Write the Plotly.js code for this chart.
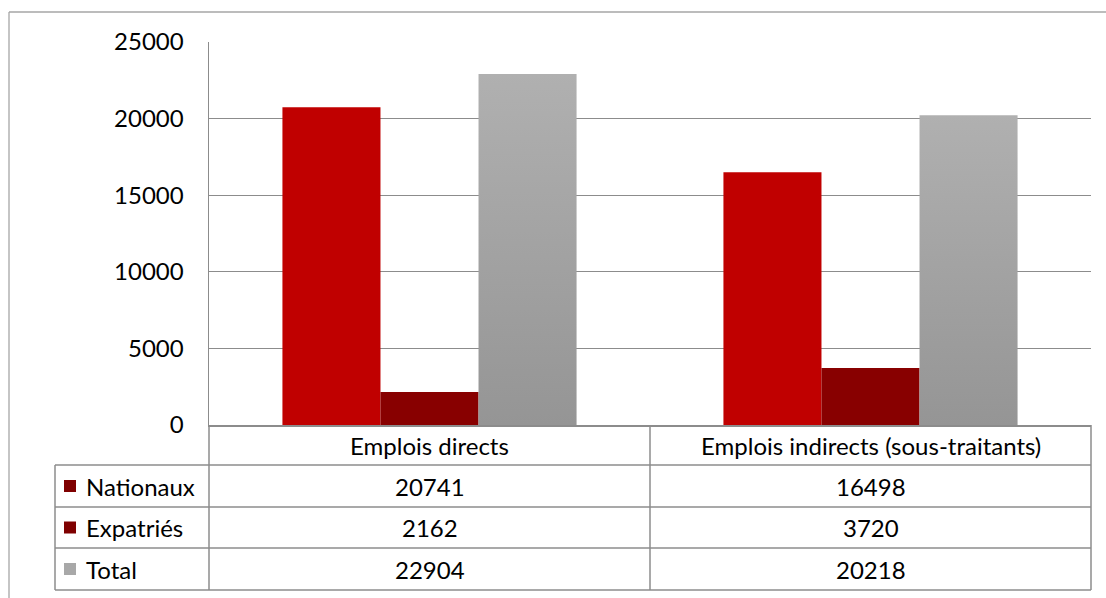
<!DOCTYPE html>
<html><head><meta charset="utf-8">
<script src="https://cdn.plot.ly/plotly-3.0.1.min.js"></script>
<style>body{margin:0;background:#fff}</style>
</head><body><div id="chart" style="width:1106px;height:598px"></div>
<script>
const categories = ['Emplois directs', 'Emplois indirects (sous-traitants)'];
const seriesNames = ['Nationaux', 'Expatriés', 'Total'];
const nationaux = [20741, 16498];
const expatries = [2162, 3720];
const total = [22904, 20218];
const yTicks = [0, 5000, 10000, 15000, 20000, 25000];

const W = 1106, H = 598, L = 209, R = 1091, T = 42, B = 425;
const FONT = 'Lato, Carlito, "Open Sans", sans-serif';
const FS = 24;
const px = x => (x - L) / (R - L);
const py = y => (B - y) / (B - T);
const lineCol = '#8c8c8c';

const barColors = ['#C00000', '#880000', '#A3A3A3'];
const markerColors = ['#7f0000', '#7f0000', '#a8a8a8'];
const seriesData = [nationaux, expatries, total];

const traces = seriesData.map((vals, i) => ({
  type: 'bar', name: seriesNames[i], x: categories, y: vals,
  marker: {color: barColors[i], line: {width: 0}}, hoverinfo: 'none'
}));

const shapes = [];
const annotations = [];
function hline(x0, x1, y, col, w) {
  shapes.push({type: 'line', xref: 'paper', yref: 'paper', x0: px(x0), x1: px(x1), y0: py(y), y1: py(y), line: {color: col || lineCol, width: w || 1.5}});
}
function vline(x, y0, y1, col, w) {
  shapes.push({type: 'line', xref: 'paper', yref: 'paper', x0: px(x), x1: px(x), y0: py(y0), y1: py(y1), line: {color: col || lineCol, width: w || 1.5}});
}
// outer chart border
hline(9, 1115, 12, '#a6a6a6', 1.3);
vline(9, 12, 610, '#a6a6a6', 1.3);

// data table
const rowBounds = [425, 465, 507, 548, 590];
for (let r = 1; r < rowBounds.length; r++) hline(55, R, rowBounds[r]);
vline(55, 465, 590);
vline(209, 425, 590);
vline(650, 425, 590);
vline(1091, 425, 590);

const colCenters = [(209 + 650) / 2, (650 + 1091) / 2];
categories.forEach((c, j) => {
  annotations.push({xref: 'paper', yref: 'paper', x: px(colCenters[j]), y: py((rowBounds[0] + rowBounds[1]) / 2),
    text: c, showarrow: false, xanchor: 'center', yanchor: 'middle', font: {family: FONT, size: FS, color: '#000'}});
});
seriesNames.forEach((s, i) => {
  const yc = (rowBounds[i + 1] + rowBounds[i + 2]) / 2;
  shapes.push({type: 'rect', xref: 'paper', yref: 'paper', x0: px(64), x1: px(76), y0: py(yc - 6), y1: py(yc + 6),
    fillcolor: markerColors[i], line: {width: 0}});
  annotations.push({xref: 'paper', yref: 'paper', x: px(84), y: py(yc), text: s, showarrow: false,
    xanchor: 'left', yanchor: 'middle', font: {family: FONT, size: FS, color: '#000'}});
  seriesData[i].forEach((v, j) => {
    annotations.push({xref: 'paper', yref: 'paper', x: px(colCenters[j]), y: py(yc), text: String(v), showarrow: false,
      xanchor: 'center', yanchor: 'middle', font: {family: FONT, size: FS, color: '#000'}});
  });
});

const layout = {
  width: W, height: H,
  margin: {l: L, r: W - R, t: T, b: H - B, pad: 0},
  paper_bgcolor: '#fff', plot_bgcolor: '#fff',
  showlegend: false,
  barmode: 'group', bargap: 0.333, bargroupgap: 0,
  font: {family: FONT, size: FS, color: '#000'},
  xaxis: {showticklabels: false, ticks: '', showline: true, linecolor: lineCol, linewidth: 1.5, showgrid: false, zeroline: false, fixedrange: true},
  yaxis: {range: [0, 25000], tickvals: yTicks, ticktext: yTicks.map(String), showgrid: true, gridcolor: lineCol, gridwidth: 1.3,
    showline: true, linecolor: lineCol, linewidth: 1.5, zeroline: false, ticks: '', ticklabelstandoff: 19,
    tickfont: {family: FONT, size: FS, color: '#000'}, fixedrange: true},
  shapes: shapes, annotations: annotations
};

Plotly.newPlot('chart', traces, layout, {staticPlot: true, displayModeBar: false}).then(gd => {
  const svg = gd.querySelector('svg.main-svg');
  const ns = 'http://www.w3.org/2000/svg';
  let defs = svg.querySelector('defs');
  if (!defs) { defs = document.createElementNS(ns, 'defs'); svg.insertBefore(defs, svg.firstChild); }
  const g = document.createElementNS(ns, 'linearGradient');
  g.setAttribute('id', 'grayGrad');
  g.setAttribute('x1', '0'); g.setAttribute('y1', '0'); g.setAttribute('x2', '0'); g.setAttribute('y2', '1');
  [['0', '#b0b0b0'], ['1', '#959595']].forEach(([o, c]) => {
    const s = document.createElementNS(ns, 'stop');
    s.setAttribute('offset', o); s.setAttribute('stop-color', c); g.appendChild(s);
  });
  defs.appendChild(g);
  const barTraces = gd.querySelectorAll('.barlayer .trace');
  if (barTraces[2]) barTraces[2].querySelectorAll('path').forEach(p => { p.style.fill = 'url(#grayGrad)'; });
});
</script>
</body></html>
